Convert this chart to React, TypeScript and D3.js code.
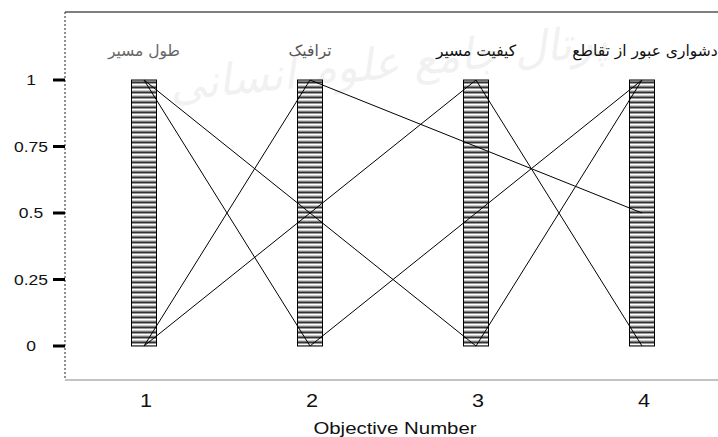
import React from "react";
import * as d3 from "d3";

const objectives = [1, 2, 3, 4];
const objectiveNames = ["طول مسیر", "ترافیک", "کیفیت مسیر", "دشواری عبور از تقاطع"];
const nameColors = ["#666", "#555", "#111", "#111"];
const yTicks = [0, 0.25, 0.5, 0.75, 1];
const yTickLabels = ["0", "0.25", "0.5", "0.75", "1"];
const lineA = [1, 0, 0.5, 1];
const lineB = [0, 1, 0.75, 0.5];
const lineC = [1, 0.5, 1, 0];
const lineD = [0, 0.5, 0, 1];
const series = [lineA, lineB, lineC, lineD];

const W = 718;
const H = 437;

export default function App() {
  const x = d3.scaleLinear().domain([1, 4]).range([144, 642]);
  const y = d3.scaleLinear().domain([0, 1]).range([346, 80]);
  const line = d3
    .line<number>()
    .x((_, i) => x(objectives[i]))
    .y((d) => y(d));
  const frame = { left: 65, top: 12, bottom: 380, right: 730 };
  const barW = 25;
  return (
    <div style={{ position: "absolute", left: 0, top: 0 }}>
      <svg width={W} height={H} style={{ display: "block", background: "#fff" }}>
        <defs>
          <pattern id="stripes" width={barW} height={5} patternUnits="userSpaceOnUse" y={y(1)}>
            <rect width={barW} height={5} fill="#fff" />
            <rect y={0.5} width={barW} height={1} fill="#999" />
            <rect y={1.5} width={barW} height={1.5} fill="#333" />
            <rect y={3} width={barW} height={1} fill="#999" />
          </pattern>
        </defs>
        {/* watermark */}
        <text
          x={390}
          y={78}
          textAnchor="middle"
          fontFamily="DejaVu Sans"
          fontSize={44}
          fontStyle="italic"
          fill="#000"
          opacity={0.05}
          transform="rotate(-6 390 78)"
        >
          پرتال جامع علوم انسانی
        </text>
        {/* frame */}
        <line x1={frame.left} x2={frame.right} y1={frame.top} y2={frame.top} stroke="#000" strokeWidth={1} />
        <line x1={frame.left} x2={frame.right} y1={frame.bottom} y2={frame.bottom} stroke="#888" strokeWidth={1.2} />
        <line
          x1={frame.left}
          x2={frame.left}
          y1={frame.top}
          y2={frame.bottom}
          stroke="#555"
          strokeWidth={1.3}
          strokeDasharray="2,2"
        />
        {/* y ticks */}
        {yTicks.map((t, i) => (
          <g key={t}>
            <line x1={53} x2={frame.left} y1={y(t)} y2={y(t)} stroke="#000" strokeWidth={3} />
            <text
              transform={`translate(31,${y(t) + 5}) scale(1.25,1)`}
              textAnchor="middle"
              fontFamily="Liberation Sans, Arial, sans-serif"
              fontSize={14}
              fill="#111"
            >
              {yTickLabels[i]}
            </text>
          </g>
        ))}
        {/* x ticks */}
        {objectives.map((o) => (
          <text
            key={o}
            transform={`translate(${x(o) + 2},${407}) scale(1.2,1)`}
            textAnchor="middle"
            fontFamily="Liberation Sans, Arial, sans-serif"
            fontSize={18}
            fill="#111"
          >
            {o}
          </text>
        ))}
        <text
          transform={`translate(395,434) scale(1.2,1)`}
          textAnchor="middle"
          fontFamily="Liberation Sans, Arial, sans-serif"
          fontSize={17}
          fill="#111"
        >
          Objective Number
        </text>
        {/* objective names */}
        {objectives.map((o, i) => (
          <text
            key={"n" + o}
            x={x(o) + (i === 3 ? 3 : 0)}
            y={56}
            textAnchor="middle"
            fontFamily="DejaVu Sans, sans-serif"
            fontSize={15.5}
            fill={nameColors[i]}
            direction="rtl"
          >
            {objectiveNames[i]}
          </text>
        ))}
        {/* bars */}
        {objectives.map((o) => (
          <rect
            key={"b" + o}
            x={x(o) - barW / 2}
            y={y(1)}
            width={barW}
            height={y(0) - y(1)}
            fill="url(#stripes)"
            stroke="#000"
            strokeWidth={1}
          />
        ))}
        {/* lines */}
        {series.map((s, i) => (
          <path key={"l" + i} d={line(s) || ""} fill="none" stroke="#000" strokeWidth={1} />
        ))}
      </svg>
    </div>
  );
}
